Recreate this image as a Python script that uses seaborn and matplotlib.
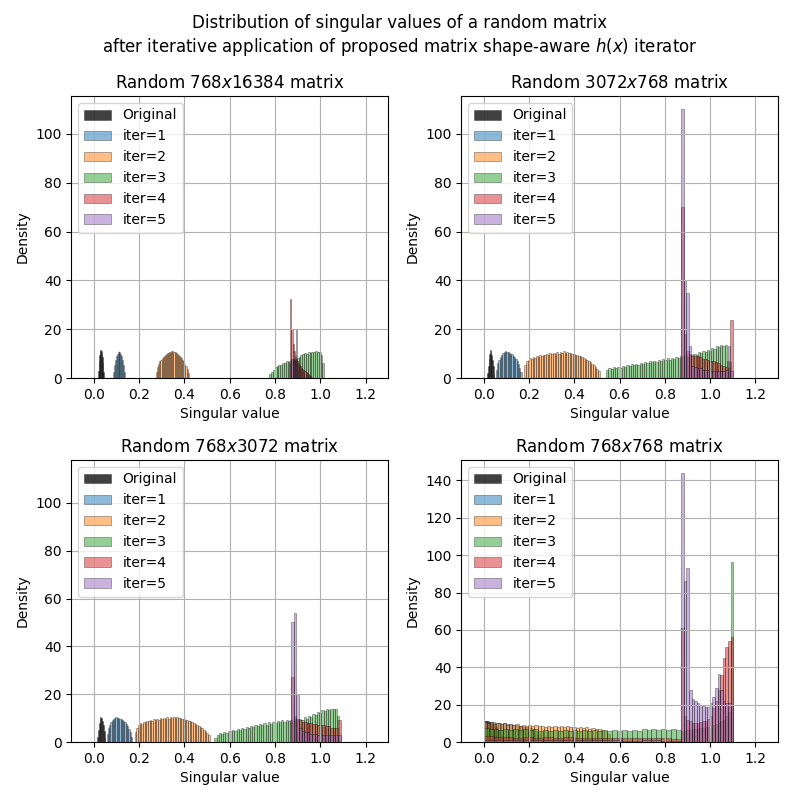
import numpy as np
import pandas as pd
import matplotlib
matplotlib.use("Agg")
import matplotlib.pyplot as plt
import seaborn as sns

# series labels and colours
labels = ['Original', 'iter=1', 'iter=2', 'iter=3', 'iter=4', 'iter=5']
colors = ['black', 'C0', 'C1', 'C2', 'C3', 'C4']
titles = ['Random $768x16384$ matrix', 'Random $3072x768$ matrix',
          'Random $768x3072$ matrix', 'Random $768x768$ matrix']
ylims = [115.5, 115.5, 118, 151]

# --- 768x16384: (lo, hi) of each histogram and density per bin ---
a_orig_rng = (0.019, 0.044)
a_orig = [3, 7, 9.5, 11, 11.5, 11, 10, 8.5, 6, 2.5]
a_it1_rng = (0.085, 0.137)
a_it1 = [2.5, 5.5, 7.5, 9, 10, 10.7, 10.9, 10.7, 10, 9, 7.5, 5.5, 2.5]
a_it2_rng = (0.275, 0.419)
a_it2 = [2.5, 4.5, 5.8, 6.8, 7.5, 8.1, 8.6, 9.1, 9.5, 9.8, 10.1, 10.4, 10.6, 10.8, 10.9,
         10.9, 10.7, 10.5, 10.3, 10.0, 9.6, 9.2, 8.7, 8.1, 7.5, 6.8, 5.9, 4.9, 3.7, 2.0]
a_it3_rng = (0.775, 1.018)
a_it3 = [1.5, 2.5, 3.5, 4.5, 5.0, 5.5, 5.2, 6.0, 6.3, 6.8, 6.5, 7.2, 7.5, 7.8, 7.4,
         8.3, 8.8, 9.3, 9.8, 10.2, 9.9, 10.5, 10.3, 10.8, 10.5, 11.0, 10.6, 10.8, 9.5, 6.0]
a_it4_rng = (0.868, 0.964)
a_it4 = [32.5, 20, 14, 11, 9, 7.8, 7, 6.2, 5.5, 4.8, 4.2, 3.6, 3.2, 2.8, 2.4, 2, 1.6, 1.3, 1, 0.6]
a_it5_rng = (0.868, 0.903)
a_it5 = [6, 8, 7.5, 7, 6.5, 20, 3]

# --- 3072x768 ---
b_orig_rng = (0.015, 0.047)
b_orig = [2, 5, 8, 10, 11.3, 10.8, 9.5, 7.5, 5, 2]
b_it1_rng = (0.054, 0.168)
b_it1 = [3.5, 6, 7.5, 8.6, 9.5, 10.2, 10.7, 10.9, 10.8, 10.6, 10.4, 10, 9.7, 9.2, 8.7,
         7.9, 6.9, 5.6, 4.2, 2.3]
b_it2_rng = (0.18, 0.512)
b_it2 = [5.4, 6.8, 7.6, 8.2, 7.9, 8.6, 8.4, 9.1, 8.8, 9.4, 9.0, 9.6, 9.3, 9.9, 9.5,
         10.1, 9.7, 10.3, 9.9, 10.5, 10.0, 10.7, 10.2, 10.9, 10.3, 10.6, 10.1, 10.4, 9.8, 10.0,
         9.5, 9.6, 9.0, 9.1, 8.5, 8.3, 7.8, 7.4, 7.0, 6.4, 5.9, 5.3, 4.6, 3.8, 2.8]
b_it3_rng = (0.541, 1.094)
b_it3 = [3.4, 4.1, 3.6, 4.4, 4.0, 4.7, 4.3, 5.0, 4.6, 5.3, 4.9, 5.6, 5.2, 5.9, 5.5,
         6.3, 5.8, 6.6, 6.1, 6.9, 6.4, 7.2, 6.7, 7.5, 7.0, 7.8, 7.3, 8.1, 7.6, 8.4,
         7.9, 8.7, 8.2, 9.0, 8.5, 9.3, 8.8, 9.6, 9.2, 10.0, 9.6, 10.5, 10.1, 11.0, 10.6,
         11.6, 11.2, 12.3, 11.9, 13.0, 12.6, 13.6, 13.2, 13.5, 7.2, 6.5]
b_it4_rng = (0.872, 1.1)
b_it4 = [70, 18, 11, 10, 9.5, 9, 9, 8.5, 8, 8, 7.5, 7, 7, 6.5, 6, 5.5, 5, 4.5, 4, 23.7]
b_it5_rng = (0.872, 1.1)
b_it5 = [110, 40, 35, 13, 5, 4.5, 4, 4, 3.5, 3.5, 3.5, 3, 3, 3, 3, 3, 3, 3.5, 13, 3]

# --- 768x3072 ---
c_orig_rng = (0.015, 0.051)
c_orig = [2, 5, 8, 9.8, 10.3, 9.9, 8.8, 7, 4.8, 2]
c_it1_rng = (0.056, 0.169)
c_it1 = [3.2, 5.8, 7.2, 8.2, 9.0, 9.6, 10.0, 10.3, 10.2, 10.0, 9.8, 9.5, 9.1, 8.7, 8.2,
         7.5, 6.6, 5.4, 4.0, 2.2]
c_it2_rng = (0.18, 0.511)
c_it2 = [4.3, 6.0, 7.2, 8.0, 7.7, 8.5, 8.2, 8.9, 8.6, 9.2, 8.9, 9.5, 9.1, 9.7, 9.3,
         9.9, 9.5, 10.1, 9.7, 10.3, 9.8, 10.5, 10.0, 10.6, 10.1, 10.4, 9.9, 10.2, 9.6, 9.8,
         9.3, 9.4, 8.8, 8.9, 8.3, 8.1, 7.6, 7.2, 6.8, 6.2, 5.7, 5.1, 4.5, 3.9, 3.0]
c_it3_rng = (0.532, 1.084)
c_it3 = [1.5, 3.0, 3.8, 3.4, 4.3, 3.9, 4.8, 4.4, 5.2, 4.7, 5.6, 5.0, 5.9, 5.4, 6.3,
         5.8, 6.7, 6.2, 7.1, 6.6, 7.5, 7.0, 7.8, 7.3, 8.2, 7.7, 8.5, 8.0, 8.8, 8.2,
         9.0, 8.5, 9.1, 8.6, 9.2, 8.8, 9.5, 9.0, 9.8, 9.4, 10.3, 9.8, 11.0, 10.5, 11.8,
         11.3, 12.5, 12.0, 13.2, 12.8, 13.8, 13.3, 14.0, 13.6, 13.9, 11.0]
c_it4_rng = (0.872, 1.09)
c_it4 = [27, 11, 9.5, 9, 8.5, 8.5, 8, 8, 7.5, 7.5, 7, 7, 7, 6.5, 6.5, 6, 6, 6, 9.2]
c_it5_rng = (0.872, 1.09)
c_it5 = [50, 54, 20, 6, 4.5, 4, 4, 3.5, 3.5, 3.5, 3, 3, 3, 3, 3, 3, 3, 3, 3]

# --- 768x768 (low part and high part of the later iterations) ---
d_orig_rng = (0.0, 0.08)
d_orig = [11.5, 11.2, 10.8, 10.2, 9.3, 8.0, 6.2, 3.5]
d_it1_rng = (0.0, 0.25)
d_it1 = [11.0, 11.3, 10.6, 10.9, 10.2, 10.4, 9.8, 10.0, 9.5, 9.6, 9.1, 9.2, 8.7, 8.6, 8.1,
         7.9, 7.3, 6.8, 5.8, 4.2]
d_it2_rng = (0.0, 0.56)
d_it2 = [10.6, 10.2, 10.8, 9.9, 10.4, 9.6, 10.0, 9.3, 9.7, 9.0, 9.5, 8.8, 9.3, 8.6, 9.1,
         8.4, 8.9, 8.3, 8.8, 8.2, 8.7, 8.1, 8.6, 8.0, 8.5, 7.9, 8.3, 7.8, 8.2, 7.6,
         8.0, 7.4, 7.8, 7.2, 7.5, 6.9, 7.1, 6.4, 5.8, 4.5]
d_low_rng = (0.0, 0.872)
d_high_rng = (0.872, 1.102)
d_it3_low = [7.5, 6.8, 7.2, 6.5, 7.0, 6.4, 6.9, 6.3, 6.8, 6.2, 6.7, 6.1, 6.6, 6.0, 6.5,
             6.0, 6.4, 5.9, 6.3, 5.9, 6.4, 5.8, 6.2, 5.9, 6.3, 5.8, 6.2, 5.9, 6.3, 5.8,
             6.6, 6.1, 6.8, 6.3, 7.0, 6.4, 7.1, 6.5, 7.2, 6.6]
d_it3_high = [6, 6, 6.5, 6.5, 7, 7, 7, 7.5, 7.5, 8, 8, 8.5, 9, 9.5, 10, 11, 12, 14, 16, 96.5]
d_it4_low = [3.0, 2.6, 2.8, 2.4, 2.7, 2.3, 2.6, 2.2, 2.5, 2.2, 2.4, 2.1, 2.3, 2.1, 2.2,
             2.0, 2.1, 1.9, 2.0, 1.8]
d_it4_high = [61, 14, 12, 11, 10, 10, 10, 10.5, 11, 11.5, 12.5, 14, 18, 22, 28, 36, 45, 51, 54, 56]
d_it5_low = [1.2, 1.0, 1.1, 0.9, 1.0, 0.9, 0.9, 0.8, 0.9, 0.8]
d_it5_high = [144, 86, 93, 28, 23, 22, 21, 20, 19.5, 19, 18.5, 21, 24, 29, 36.5, 28, 22, 21, 21, 20]

panels = [
    [[(a_orig_rng, a_orig)], [(a_it1_rng, a_it1)], [(a_it2_rng, a_it2)],
     [(a_it3_rng, a_it3)], [(a_it4_rng, a_it4)], [(a_it5_rng, a_it5)]],
    [[(b_orig_rng, b_orig)], [(b_it1_rng, b_it1)], [(b_it2_rng, b_it2)],
     [(b_it3_rng, b_it3)], [(b_it4_rng, b_it4)], [(b_it5_rng, b_it5)]],
    [[(c_orig_rng, c_orig)], [(c_it1_rng, c_it1)], [(c_it2_rng, c_it2)],
     [(c_it3_rng, c_it3)], [(c_it4_rng, c_it4)], [(c_it5_rng, c_it5)]],
    [[(d_orig_rng, d_orig)], [(d_it1_rng, d_it1)], [(d_it2_rng, d_it2)],
     [(d_low_rng, d_it3_low), (d_high_rng, d_it3_high)],
     [(d_low_rng, d_it4_low), (d_high_rng, d_it4_high)],
     [(d_low_rng, d_it5_low), (d_high_rng, d_it5_high)]],
]


def hist(ax, rng, heights, color, alpha, label):
    n = len(heights)
    edges = np.linspace(rng[0], rng[1], n + 1)
    df = pd.DataFrame({'value': (edges[:-1] + edges[1:]) / 2, 'density': heights})
    sns.histplot(data=df, x='value', weights='density', bins=n, binrange=rng,
                 color=color, alpha=alpha, edgecolor=(0, 0, 0, 0.55), linewidth=0.4,
                 label=label, ax=ax)


fig, axs = plt.subplots(2, 2, figsize=(8, 8), dpi=100)
for ax, series, title, ymax in zip(axs.flat, panels, titles, ylims):
    for i, parts in enumerate(series):
        alpha = 0.75 if i == 0 else 0.5
        for j, (rng, h) in enumerate(parts):
            hist(ax, rng, h, colors[i], alpha, labels[i] if j == 0 else '_nolegend_')
    ax.set_xlim(-0.1, 1.3)
    ax.set_ylim(0, ymax)
    ax.set_title(title, fontsize=12)
    ax.set_xlabel('Singular value')
    ax.set_ylabel('Density')
    ax.grid(True)
    ax.legend(loc='upper left')

fig.suptitle('Distribution of singular values of a random matrix\n'
             'after iterative application of proposed matrix shape-aware $h(x)$ iterator',
             fontsize=12, y=0.982)
plt.subplots_adjust(left=0.089, right=0.9725, top=0.88, bottom=0.0725,
                    wspace=0.23, hspace=0.29)
plt.savefig('out.png', dpi=100)
